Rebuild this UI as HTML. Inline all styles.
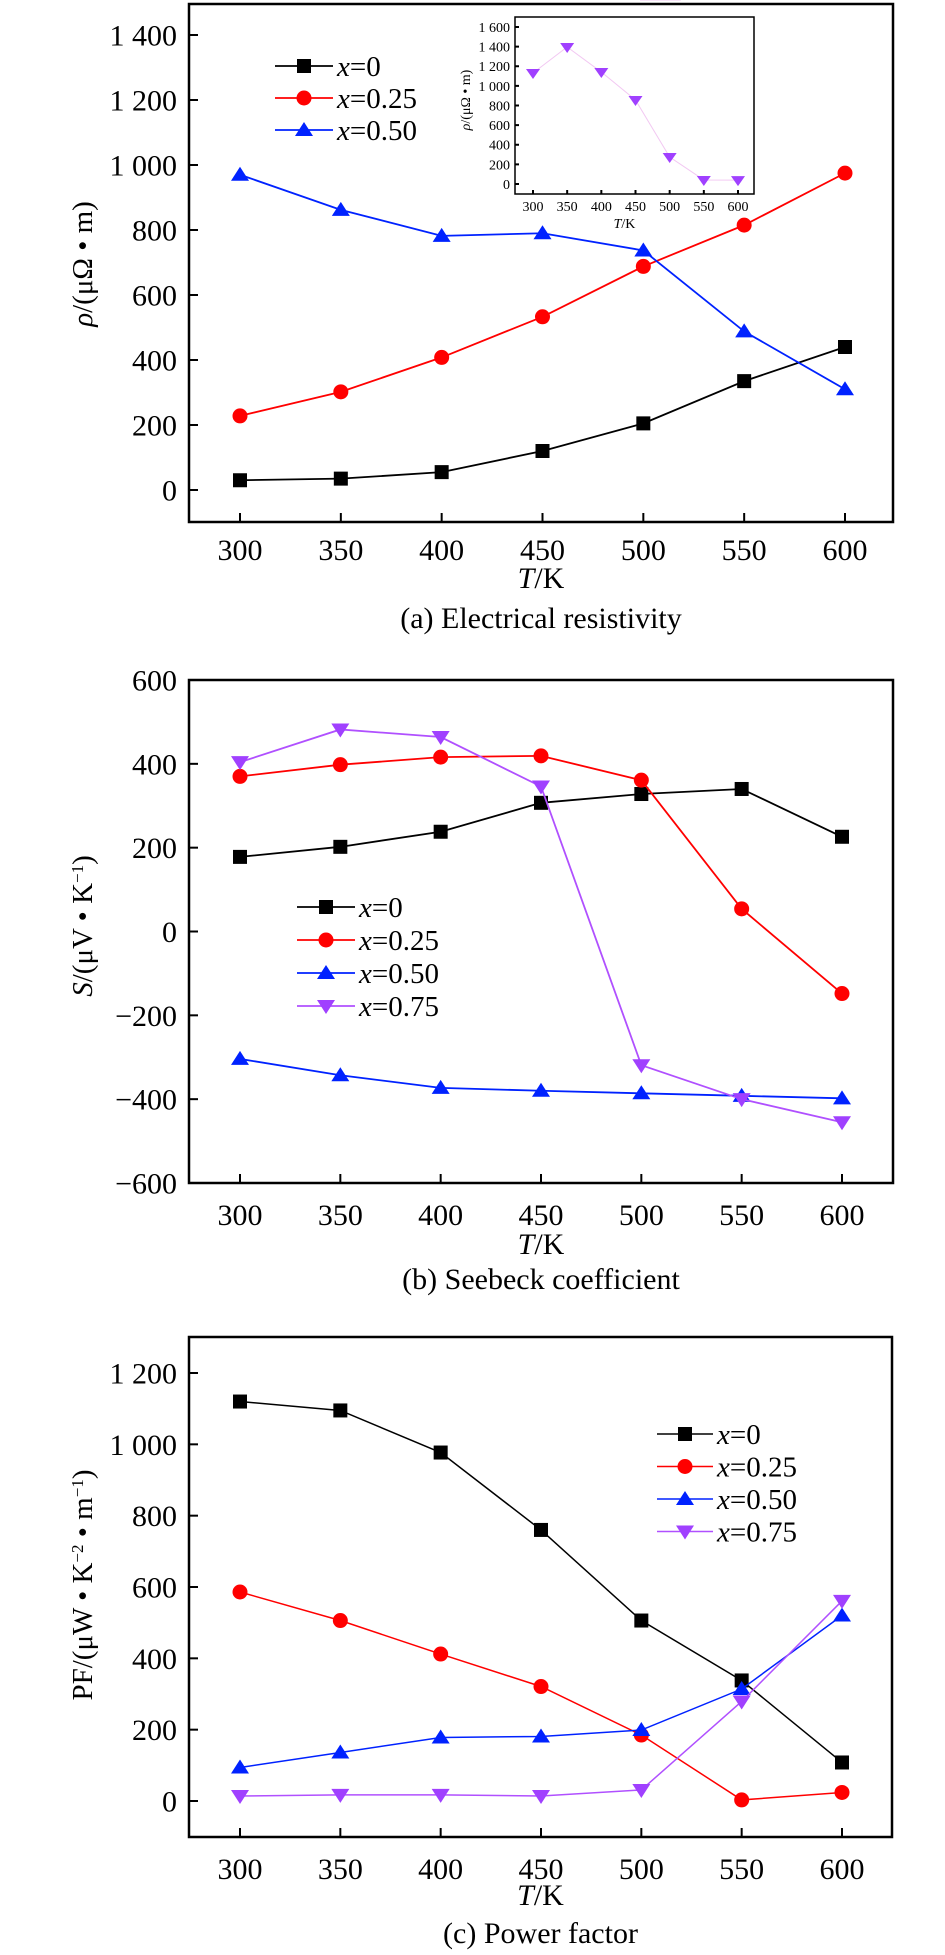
<!DOCTYPE html>
<html><head><meta charset="utf-8">
<style>
html,body{margin:0;padding:0;background:#fff;}
svg{display:block;font-family:"Liberation Serif",serif;}
</style></head>
<body>
<svg id="fig" width="945" height="1955" viewBox="0 0 945 1955" xmlns="http://www.w3.org/2000/svg"></svg>
<script>
const temps = [300,350,400,450,500,550,600];
const seriesLabels = ["0","0.25","0.50","0.75"];
// (a) resistivity
const rhoX0 = [30,35,55,120,205,335,440];
const rhoX25 = [228,302,408,533,688,815,975];
const rhoX50 = [970,862,782,790,737,488,310];
const rhoX75 = [1131,1396,1141,856,275,41,40];
const rhoTicks = [0,200,400,600,800,1000,1200,1400];
const rhoTickLabels = ["0","200","400","600","800","1 000","1 200","1 400"];
const insetTicks = [0,200,400,600,800,1000,1200,1400,1600];
const insetTickLabels = ["0","200","400","600","800","1 000","1 200","1 400","1 600"];
// (b) Seebeck
const sX0 = [178,202,238,307,328,340,226];
const sX25 = [370,398,416,419,361,54,-148];
const sX50 = [-304,-343,-373,-380,-386,-392,-398];
const sX75 = [404,482,464,346,-319,-400,-455];
const sTicks = [-600,-400,-200,0,200,400,600];
const sTickLabels = ["\u2212600","\u2212400","\u2212200","0","200","400","600"];
// (c) power factor
const pfX0 = [1120,1095,977,760,506,338,108];
const pfX25 = [586,506,412,321,185,3,24];
const pfX50 = [94,136,178,181,199,314,520];
const pfX75 = [14,17,17,14,31,279,561];
const pfTicks = [0,200,400,600,800,1000,1200];
const pfTickLabels = ["0","200","400","600","800","1 000","1 200"];

const NS="http://www.w3.org/2000/svg";
const svg=document.getElementById('fig');
function el(tag,attrs,parent,text){const e=document.createElementNS(NS,tag);for(const k in attrs)e.setAttribute(k,attrs[k]);if(text!==undefined)e.textContent=text;(parent||svg).appendChild(e);return e;}
const colors=["#000","#ff0000","#0022ff","#a040ff"];
const lineColors=["#000","#ff0000","#0022ff","#b050ff"];

function marker(g,kind,x,y,c,s){
  let m;
  if(kind===0){m=el('rect',{x:x-s,y:y-s,width:2*s,height:2*s,fill:c},g);}
  else if(kind===1){m=el('circle',{cx:x,cy:y,r:s+0.5,fill:c},g);}
  else if(kind===2){m=el('polygon',{points:`${x},${y-s-1} ${x-s-2},${y+s-1} ${x+s+2},${y+s-1}`,fill:c},g);}
  else {m=el('polygon',{points:`${x},${y+s+1} ${x-s-2},${y-s+1} ${x+s+2},${y-s+1}`,fill:c},g);}
  
  
  return m;
}

function panel(o){
  const g=el('g',{},svg);
  
  
  const xs=v=>o.x0+(v-300)/300*(o.x1-o.x0);
  const ys=v=>o.yz+(v-o.vz)*(o.yt-o.yz)/(o.vt-o.vz);
  const fr=el('rect',{x:o.L,y:o.T,width:o.R-o.L,height:o.B-o.T,fill:'none',stroke:'#000','stroke-width':o.fw||2.5},g);
  
  
  o.ticks.forEach((t,i)=>{
    const y=ys(t);
    el('line',{x1:o.L,x2:o.L+(o.tl||9),y1:y,y2:y,stroke:'#000','stroke-width':2},g);
    const tx=el('text',{x:o.L-(o.lg||12),y:y+(o.fs*0.35),'text-anchor':'end','font-size':o.fs},g,o.tlabels[i]);
    
    
  });
  temps.forEach(t=>{
    const x=xs(t);
    el('line',{x1:x,x2:x,y1:o.B,y2:o.B-(o.tl||9),stroke:'#000','stroke-width':2},g);
    const tx=el('text',{x:x,y:o.B+(o.xly||40),'text-anchor':'middle','font-size':o.fs},g,String(t));
    
    
  });
  o.series.forEach((s,k)=>{
    if(!s)return;
    const sg=el('g',{},g);
    
    
    const kind=o.kinds?o.kinds[k]:k;
    const lc=o.lcol?o.lcol[k]:lineColors[k];
    const pts=s.map((v,i)=>xs(temps[i])+','+ys(v)).join(' ');
    el('polyline',{points:pts,fill:'none',stroke:lc,'stroke-width':o.lw||1.8},sg);
    s.forEach((v,i)=>marker(sg,kind,xs(temps[i]),ys(v),colors[k],o.ms||7));
  });
  if(o.leg){
    const lg=el('g',{},g);
    
    
    o.leg.items.forEach((k,j)=>{
      const y=o.leg.y+j*o.leg.dy;
      const kind=o.kinds?o.kinds[k]:k;
      const lc=o.lcol?o.lcol[k]:lineColors[k];
      el('line',{x1:o.leg.x1,x2:o.leg.x2,y1:y,y2:y,stroke:lc,'stroke-width':o.lw||1.8},lg);
      marker(lg,kind,(o.leg.x1+o.leg.x2)/2,y,colors[k],o.ms||7);
      const t=el('text',{x:o.leg.x2+4,y:y+o.leg.fs*0.35,'font-size':o.leg.fs},lg);
      
      
      el('tspan',{'font-style':'italic'},t,'x');
      el('tspan',{},t,'='+seriesLabels[k]);
    });
  }
  if(o.ylab){
    const yl=el('text',{x:0,y:0,'text-anchor':'middle','font-size':o.ylab.fs,transform:`translate(${o.ylab.x},${o.ylab.y}) rotate(-90)`},g);
    
    
    o.ylab.parts.forEach(p=>el('tspan',p[1]||{},yl,p[0]));
  }
  if(o.xlab){
    const xl=el('text',{x:(o.L+o.R)/2+ (o.xlab.dx||0),y:o.xlab.y,'text-anchor':'middle','font-size':o.xlab.fs},g);
    
    
    el('tspan',{'font-style':'italic'},xl,'T');
    el('tspan',{},xl,'/K');
  }
  if(o.cap){
    const c=el('text',{x:(o.L+o.R)/2+(o.cap.dx||0),y:o.cap.y,'text-anchor':'middle','font-size':o.cap.fs},g,o.cap.text);
    
    
  }
  return g;
}

panel({name:'panel-a-resistivity',L:189,R:893,T:4,B:522,x0:240,x1:845,vz:0,yz:490,vt:1400,yt:35,
  ticks:rhoTicks,tlabels:rhoTickLabels,fs:30,xly:38,
  series:[rhoX0,rhoX25,rhoX50],
  leg:{items:[0,1,2],x1:275,x2:333,y:66,dy:32,fs:29},
  ylab:{x:92,y:264,fs:29,parts:[['\u03c1',{'font-style':'italic'}],['/(\u03bc\u03a9 \u2022 m)']]},
  xlab:{y:588,fs:30},cap:{y:628,fs:30,text:'(a) Electrical resistivity'}});
panel({name:'inset-resistivity-x075',L:515,R:754,T:17,B:194,x0:533,x1:738,vz:0,yz:184,vt:1600,yt:27,
  ticks:insetTicks,tlabels:insetTickLabels,fs:14,xly:17,tl:4,lg:5,fw:1.5,lw:1,ms:5,
  series:[null,null,null,rhoX75],lcol:['#000','#f00','#00f','#f2c8f2'],
  leg:{items:[3],x1:640,x2:681,y:64,fs:15},
  ylab:{x:470,y:100,fs:14,parts:[['\u03c1',{'font-style':'italic'}],['/(\u03bc\u03a9 \u2022 m)']]},
  xlab:{y:228,fs:14,dx:-10}});
panel({name:'panel-b-seebeck',L:189,R:893,T:680,B:1183,x0:240,x1:842,vz:-600,yz:1183,vt:600,yt:680,
  ticks:sTicks,tlabels:sTickLabels,fs:30,xly:42,
  series:[sX0,sX25,sX50,sX75],
  leg:{items:[0,1,2,3],x1:297,x2:355,y:907,dy:33,fs:29},
  ylab:{x:92,y:926,fs:29,parts:[['S',{'font-style':'italic'}],['/(\u03bcV \u2022 K'],['\u22121',{'baseline-shift':'super','font-size':17}],[')']]},
  xlab:{y:1254,fs:30},cap:{y:1289,fs:30,text:'(b)  Seebeck coefficient'}});
panel({name:'panel-c-power-factor',L:189,R:892,T:1337,B:1837,x0:240,x1:842,vz:0,yz:1801,vt:1200,yt:1373,
  ticks:pfTicks,tlabels:pfTickLabels,fs:30,xly:42,lw:1.5,
  series:[pfX0,pfX25,pfX50,pfX75],
  leg:{items:[0,1,2,3],x1:657,x2:713,y:1434,dy:32.5,fs:29},
  ylab:{x:92,y:1585,fs:29,parts:[['PF/(\u03bcW \u2022 K'],['\u22122',{'baseline-shift':'super','font-size':17}],[' \u2022 m',{'baseline-shift':'0'}],['\u22121',{'baseline-shift':'super','font-size':17}],[')']]},
  xlab:{y:1905,fs:30},cap:{y:1943,fs:30,text:'(c) Power factor'}});
</script>
</body></html>
